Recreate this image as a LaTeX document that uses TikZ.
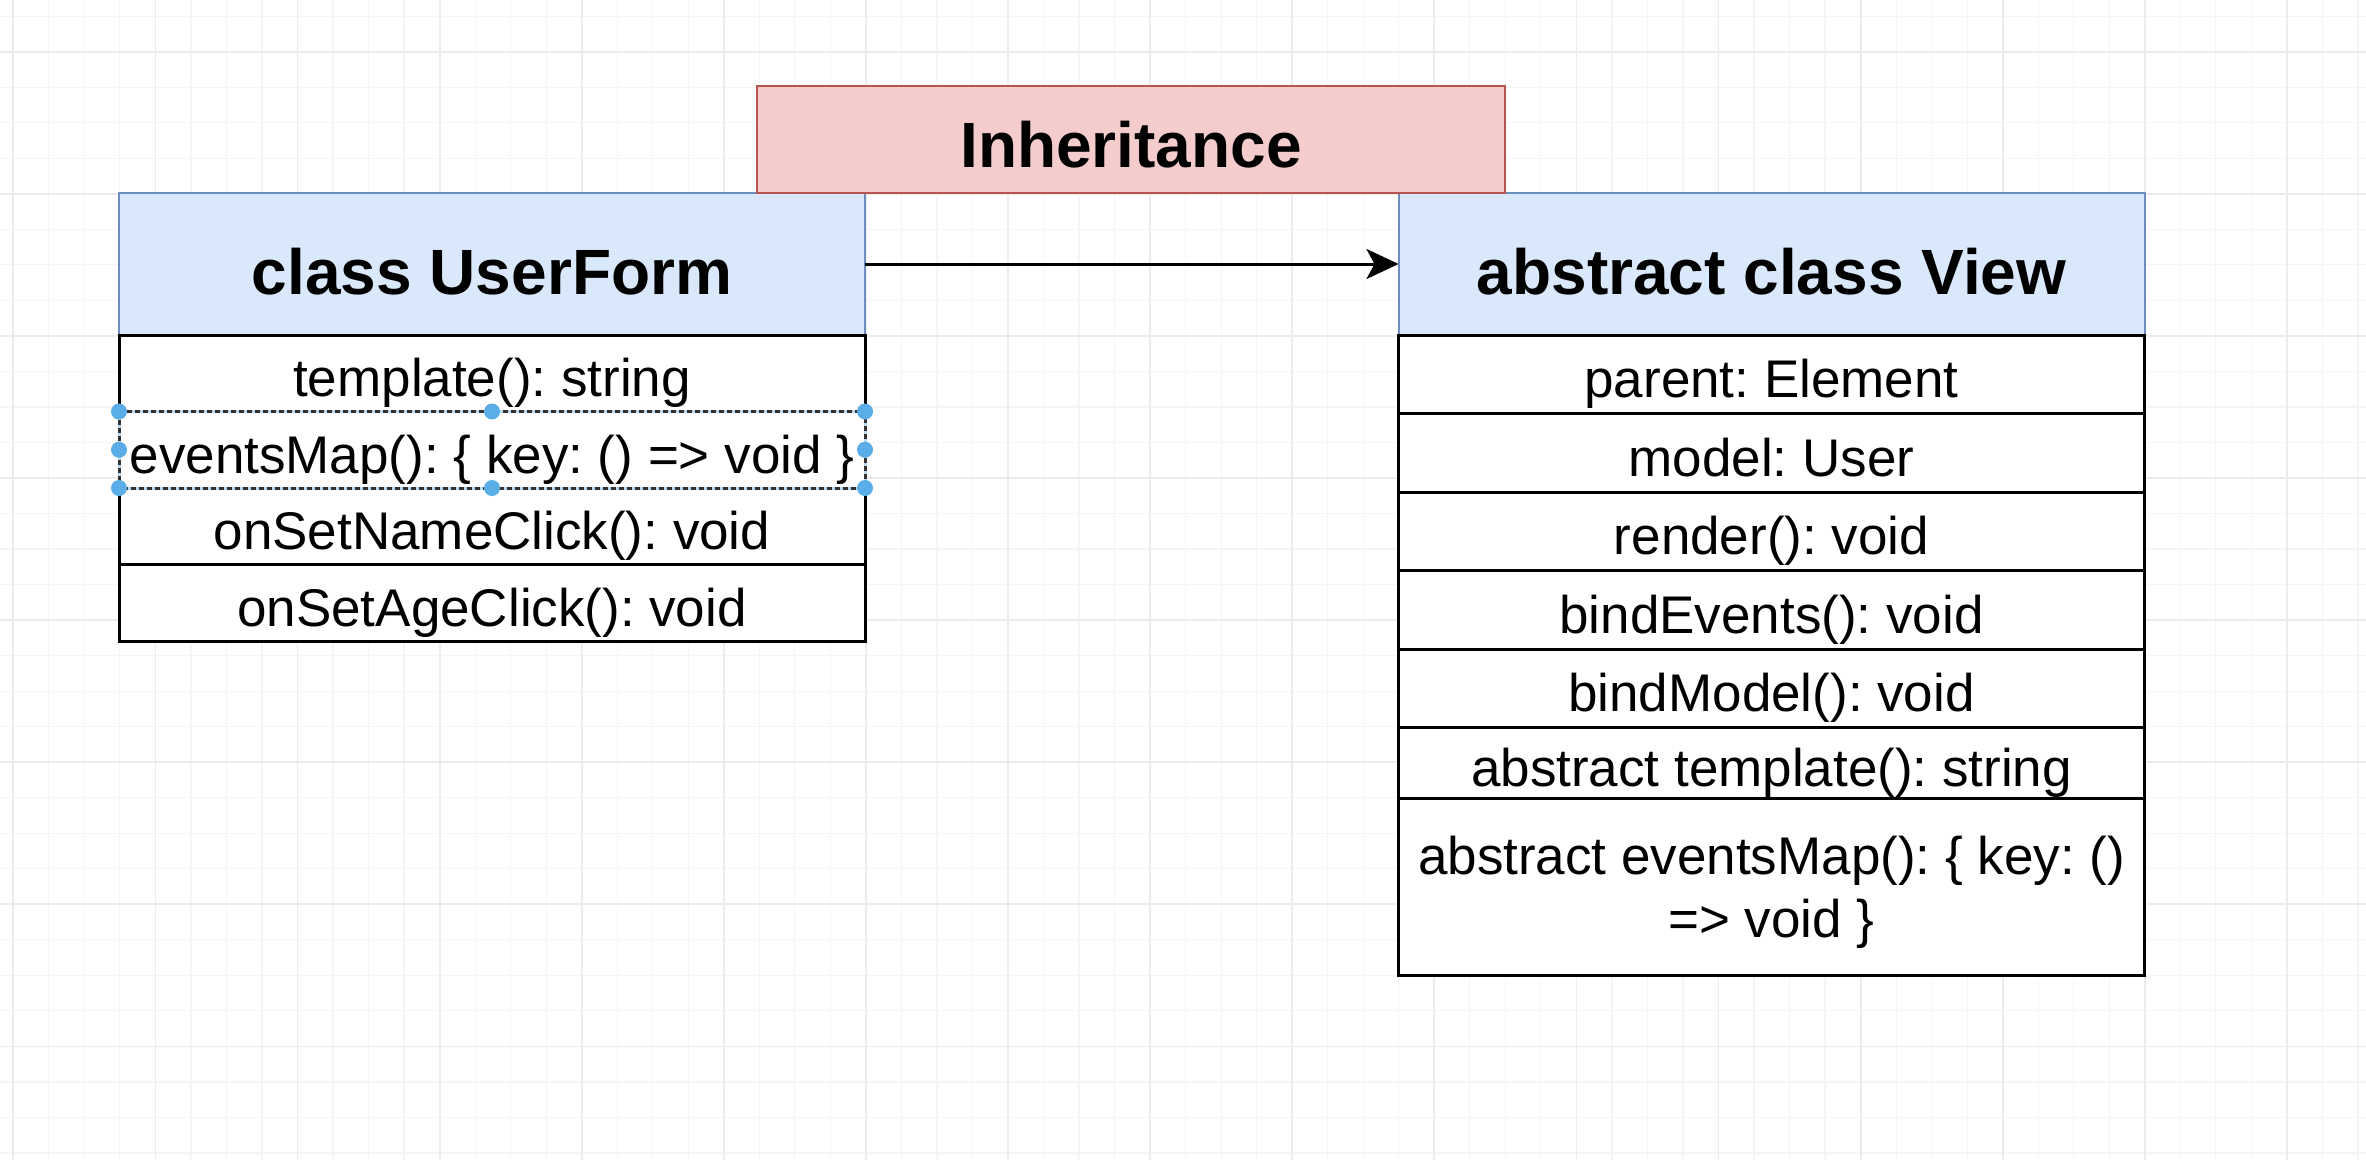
\documentclass[tikz,border=0pt]{standalone}
\usepackage{fontspec}
\setmainfont{Liberation Sans}
\frenchspacing
\usetikzlibrary{positioning,arrows.meta}
\definecolor{headfill}{HTML}{DAE8FC}
\definecolor{headline}{HTML}{6C8EBF}
\definecolor{titlefill}{HTML}{F4CCCC}
\definecolor{titleline}{HTML}{B85450}
\definecolor{gridminor}{HTML}{F5F5F5}
\definecolor{gridmajor}{HTML}{ECECEC}
\definecolor{handle}{HTML}{5AADE6}
\tikzset{
  titlebox/.style={draw=titleline, fill=titlefill, line width=2pt, minimum width=748pt, minimum height=107pt,
    inner sep=0pt, outer sep=0pt, text height=55pt, text depth=0pt, font=\fontsize{64}{76}\selectfont\bfseries},
  classhead/.style={draw=headline, fill=headfill, line width=2pt, minimum width=746pt, minimum height=142pt,
    inner sep=0pt, outer sep=0pt, text height=60pt, text depth=0pt, font=\fontsize{64}{76}\selectfont\bfseries},
  memberbox/.style={draw=black, fill=white, line width=3pt, minimum width=746pt, inner sep=0pt, outer sep=0pt,
    font=\fontsize{53}{63}\selectfont},
  member/.style={memberbox, minimum height=#1, text height=47pt, text depth=0pt},
  member/.default=76.5pt,
  selbox/.style={preaction={draw=handle!45, line width=3pt}, draw=black!80, line width=3pt, dash pattern=on 5pt off 3pt},
}
\begin{document}
\begin{tikzpicture}[x=1pt, y=-1pt, >={Stealth[length=32pt, width=30pt, inset=8pt]}]
  \useasboundingbox (0,0) rectangle (2366,1160);
  \fill[white] (0,0) rectangle (2366,1160);
  % grid
  \foreach \i in {0,...,66}
    \draw[gridminor, line width=1.2pt] ({13.3+35.525*\i},0) -- ++(0,1160);
  \foreach \i in {0,...,32}
    \draw[gridminor, line width=1.2pt] (0,{16.175+35.525*\i}) -- ++(2366,0);
  \foreach \i in {0,...,16}
    \draw[gridmajor, line width=1.8pt] ({13.3+142.1*\i},0) -- ++(0,1160);
  \foreach \i in {0,...,7}
    \draw[gridmajor, line width=1.8pt] (0,{51.7+142.1*\i}) -- ++(2366,0);

  % class UserForm
  \node[classhead] (uform) at (492,264) {class UserForm};
  \node[member, below=0pt of uform] (uftemplate) {template(): string};
  \node[member, below=0pt of uftemplate] (ufevents) {eventsMap(): \{ key: () => void \}};
  \node[member, below=0pt of ufevents] (ufname) {onSetNameClick(): void};
  \node[member, below=0pt of ufname] (ufage) {onSetAgeClick(): void};

  % abstract class View
  \node[classhead] (view) at (1771.5,264) {abstract class View};
  \node[member=78.5pt, below=0pt of view] (vparent) {parent: Element};
  \node[member=78.5pt, below=0pt of vparent] (vmodel) {model: User};
  \node[member=78.5pt, below=0pt of vmodel] (vrender) {render(): void};
  \node[member=78.5pt, below=0pt of vrender] (vbindev) {bindEvents(): void};
  \node[member=78.5pt, below=0pt of vbindev] (vbindmod) {bindModel(): void};
  \node[member=71pt, below=0pt of vbindmod] (vtemplate) {abstract template(): string};
  \node[memberbox, minimum height=177pt, align=center, text depth=0pt, below=0pt of vtemplate] (vevents)
    {abstract eventsMap(): \{ key: ()\\=> void \}};

  \node[titlebox] (title) at (1131,139.5) {Inheritance};

  \draw[->, line width=3pt] (uform.east) -- (view.west);

  % selection of the eventsMap row
  \draw[selbox] (ufevents.north west) rectangle (ufevents.south east);
  \foreach \a in {north west, north, north east, west, east, south west, south, south east}
    \fill[handle] (ufevents.\a) circle (8pt);
\end{tikzpicture}
\end{document}
